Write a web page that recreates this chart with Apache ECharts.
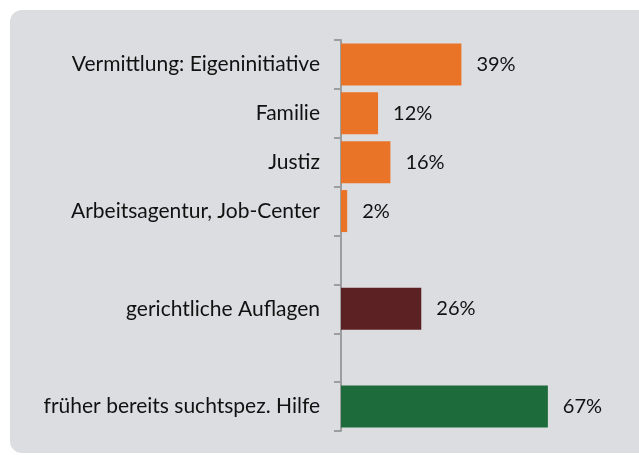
<!DOCTYPE html>
<html>
<head>
<meta charset="utf-8">
<script src="https://cdn.jsdelivr.net/npm/echarts@6/dist/echarts.min.js"></script>
<style>
  html, body { margin: 0; padding: 0; background: #fff; }
  #chart { width: 639px; height: 455px; }
</style>
</head>
<body>
<div id="chart"></div>
<script>
// Kategorien von oben nach unten, leere Einträge = Lücke
var categories = [
  "Vermittlung: Eigeninitiative",
  "Familie",
  "Justiz",
  "Arbeitsagentur, Job-Center",
  "",
  "gerichtliche Auflagen",
  "",
  "früher bereits suchtspez. Hilfe"
];
var values = [39, 12, 16, 2, null, 26, null, 67];
var barColors = ["#e97428", "#e97428", "#e97428", "#e97428", null, "#5c2122", null, "#1d6b3a"];

var chart = echarts.init(document.getElementById("chart"));

var data = values.map(function (v, i) {
  if (v == null) return null;
  return { value: v, itemStyle: { color: barColors[i] } };
});

var option = {
  animation: false,
  backgroundColor: "#ffffff",
  textStyle: { fontFamily: "Lato" },
  graphic: [{
    type: "rect",
    z: -10,
    shape: { x: 10, y: 10, width: 700, height: 443, r: 12 },
    style: { fill: "#dcdde0" }
  }],
  grid: { left: 341, top: 40, width: 247, bottom: 24 },
  xAxis: {
    type: "value",
    min: 0,
    max: 80,
    show: false
  },
  yAxis: {
    type: "category",
    inverse: true,
    data: categories,
    axisLine: { lineStyle: { color: "#9c9d9f", width: 2 } },
    axisTick: { show: true, length: 7, lineStyle: { color: "#9c9d9f", width: 2 } },
    axisLabel: { margin: 21, color: "#111", fontSize: 21, fontFamily: "Lato" }
  },
  series: [{
    type: "bar",
    data: data,
    barWidth: 42,
    label: {
      show: true,
      position: "right",
      distance: 15,
      color: "#111",
      fontSize: 20,
      fontFamily: "Lato",
      formatter: "{c}%"
    }
  }]
};

chart.setOption(option);
</script>
</body>
</html>
